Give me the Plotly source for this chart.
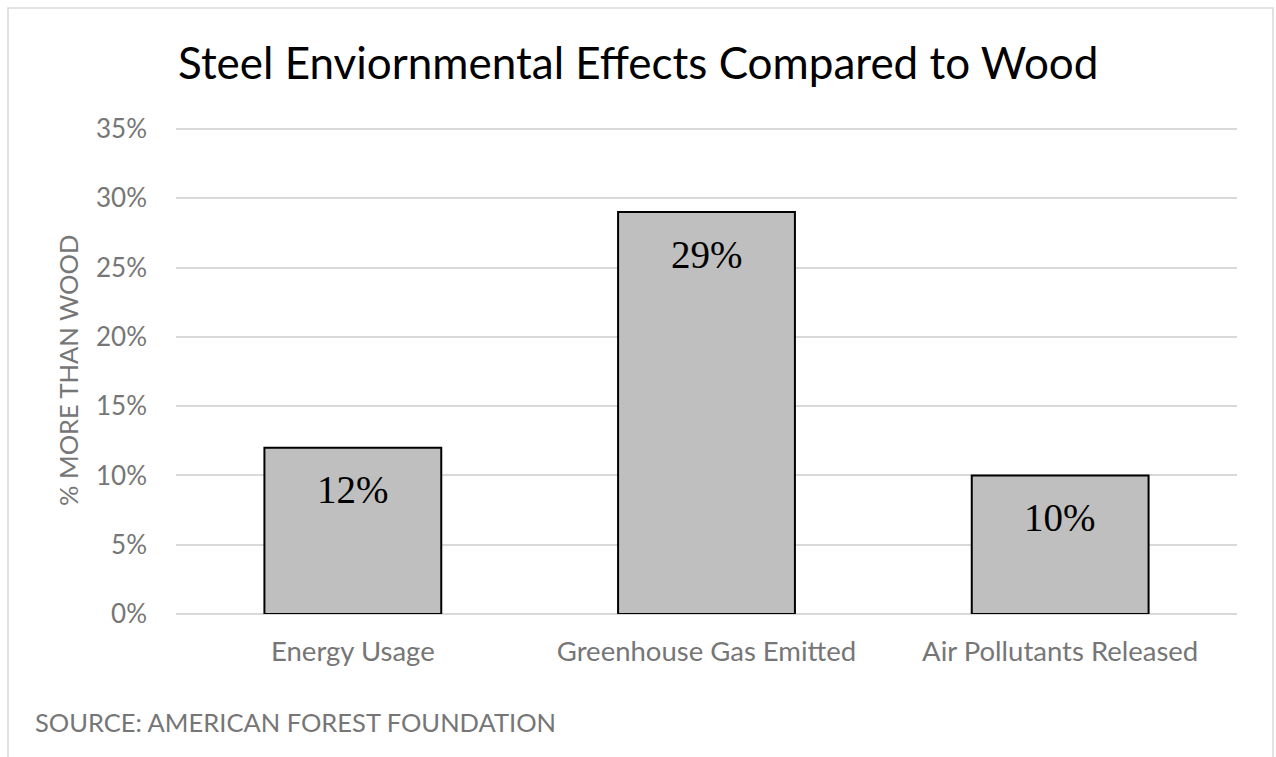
import plotly.graph_objects as go

categories = ["Energy Usage", "Greenhouse Gas Emitted", "Air Pollutants Released"]
values = [12, 29, 10]
value_labels = ["12%", "29%", "10%"]
tick_vals = [0, 5, 10, 15, 20, 25, 30, 35]
tick_text = ["0%", "5%", "10%", "15%", "20%", "25%", "30%", "35%"]

W, H = 1276, 757
YMAX = 35.5
ML, MR, MB = 176, 39, 143
MT = round((H - MB) - (H - MB - 129) * YMAX / 35)
pw = W - ML - MR
ph = H - MT - MB

def px_x(p):
    return (p - ML) / pw

def px_y(p):
    return (H - MB - p) / ph

fig = go.Figure()
fig.add_trace(go.Bar(
    x=categories, y=values,
    marker=dict(color="#bfbfbf", line=dict(color="#000000", width=2)),
    hoverinfo="skip",
))

for c, v, t in zip(categories, values, value_labels):
    fig.add_annotation(x=c, y=v, text=t, showarrow=False, yanchor="middle", yshift=-42,
                       font=dict(family="Liberation Serif", size=39, color="#000000"))

fig.add_annotation(xref="paper", yref="paper", x=px_x(638), y=px_y(62),
                   text="Steel Enviornmental Effects Compared to Wood", showarrow=False,
                   xanchor="center", yanchor="middle",
                   font=dict(family="Lato", size=44, color="#000000"))
fig.add_annotation(xref="paper", yref="paper", x=px_x(33), y=px_y(722),
                   text="SOURCE: AMERICAN FOREST FOUNDATION", showarrow=False,
                   xanchor="left", yanchor="middle",
                   font=dict(family="Lato", size=25.5, color="#767676"))
fig.add_annotation(xref="paper", yref="paper", x=px_x(68), y=px_y(371),
                   text="% MORE THAN WOOD", showarrow=False, textangle=-90,
                   xanchor="center", yanchor="middle",
                   font=dict(family="Lato", size=25.5, color="#767676"))

fig.add_shape(type="rect", xref="paper", yref="paper",
              x0=px_x(8), x1=px_x(1273), y0=px_y(8), y1=px_y(800),
              line=dict(color="#d9d9d9", width=1.5), fillcolor="rgba(0,0,0,0)", layer="below")

fig.update_layout(
    width=W, height=H,
    margin=dict(l=ML, r=MR, t=MT, b=MB),
    paper_bgcolor="#ffffff", plot_bgcolor="#ffffff",
    bargap=0.5, showlegend=False,
    xaxis=dict(showgrid=False, showline=False, ticks="", ticklabelstandoff=18,
               tickfont=dict(family="Lato", size=27.5, color="#767676")),
    yaxis=dict(range=[0, YMAX], tickvals=tick_vals, ticktext=tick_text, showgrid=True,
               gridcolor="#d9d9d9", gridwidth=1.5, zeroline=True, zerolinecolor="#d9d9d9", zerolinewidth=1.5,
               showline=False, ticks="", ticklen=0, ticklabelstandoff=28,
               tickfont=dict(family="Lato", size=26, color="#767676")),
)

fig.write_html("out.html")
